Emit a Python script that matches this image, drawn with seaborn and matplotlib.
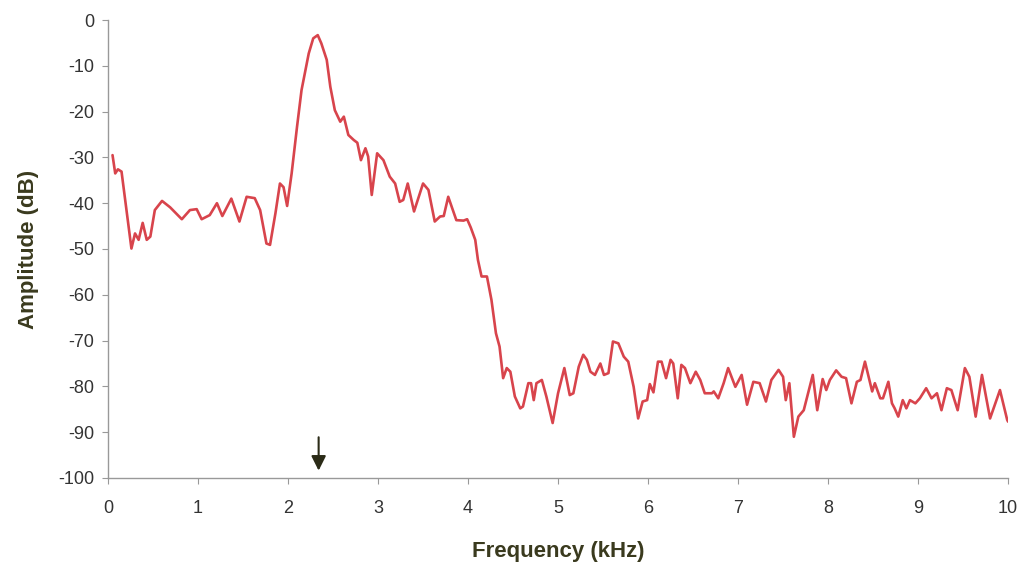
import pandas as pd
import seaborn as sns
import matplotlib.pyplot as plt

frecuencia = [0.05, 0.08, 0.11, 0.15, 0.26, 0.30, 0.34, 0.385, 0.43, 0.47,
              0.52, 0.60, 0.69, 0.82, 0.91, 0.985, 1.04, 1.13, 1.21, 1.27,
              1.37, 1.46, 1.54, 1.63, 1.69, 1.76, 1.80, 1.86, 1.91, 1.95,
              1.99, 2.04, 2.10, 2.15, 2.23, 2.28, 2.33, 2.37, 2.43, 2.47,
              2.52, 2.58, 2.62, 2.67, 2.73, 2.77, 2.81, 2.86, 2.89, 2.93,
              2.99, 3.06, 3.13, 3.19, 3.24, 3.28, 3.33, 3.40, 3.50, 3.56,
              3.63, 3.69, 3.73, 3.78, 3.87, 3.95, 3.99, 4.03, 4.08, 4.11,
              4.15, 4.21, 4.26, 4.31, 4.35, 4.39, 4.43, 4.47, 4.52, 4.58,
              4.61, 4.67, 4.70, 4.73, 4.76, 4.82, 4.87, 4.94, 5.00, 5.07,
              5.13, 5.17, 5.23, 5.28, 5.32, 5.36, 5.41, 5.47, 5.51, 5.56,
              5.61, 5.67, 5.73, 5.78, 5.84, 5.89, 5.94, 5.99, 6.02, 6.06,
              6.11, 6.15, 6.20, 6.25, 6.28, 6.33, 6.37, 6.41, 6.47, 6.53,
              6.58, 6.63, 6.71, 6.73, 6.78, 6.84, 6.89, 6.97, 7.04, 7.10,
              7.17, 7.24, 7.31, 7.37, 7.45, 7.50, 7.53, 7.57, 7.62, 7.67,
              7.73, 7.83, 7.88, 7.94, 7.98, 8.02, 8.09, 8.15, 8.20, 8.26,
              8.32, 8.36, 8.41, 8.49, 8.52, 8.58, 8.61, 8.67, 8.71, 8.74,
              8.78, 8.83, 8.87, 8.91, 8.97, 9.02, 9.09, 9.15, 9.21, 9.26,
              9.32, 9.37, 9.44, 9.52, 9.57, 9.64, 9.71, 9.80, 9.91, 9.99,
              10.0]
amplitud = [-29.5, -33.5, -32.6, -33.1, -49.9, -46.6, -48, -44.3, -48, -47.3,
            -41.5, -39.5, -40.9, -43.5, -41.5, -41.3, -43.5, -42.6, -40, -42.8,
            -39, -44, -38.6, -38.9, -41.5, -48.8, -49.1, -42.2, -35.7, -36.5,
            -40.6, -33.5, -23.3, -15.3, -7.3, -4, -3.3, -5.1, -8.7, -14.6,
            -19.7, -22.2, -21.1, -25.1, -26.2, -26.8, -30.6, -28, -29.8, -38.2,
            -29.1, -30.6, -34.2, -35.7, -39.7, -39.3, -35.7, -41.8, -35.7, -37.1,
            -44, -42.9, -42.8, -38.6, -43.7, -43.8, -43.5, -45.3, -48, -52.4,
            -56, -56, -61.1, -68.4, -71.3, -78.2, -76, -76.8, -82.2, -84.8,
            -84.4, -79.3, -79.3, -83, -79.3, -78.6, -82.2, -88, -81.5, -76,
            -81.9, -81.5, -75.7, -73.1, -74.2, -76.8, -77.5, -75, -77.5, -77.1,
            -70.2, -70.6, -73.5, -74.6, -80.1, -87, -83.3, -83, -79.5, -81.3,
            -74.6, -74.6, -78.2, -74.2, -75, -82.6, -75.3, -76, -79.3, -76.8,
            -78.6, -81.5, -81.5, -81.1, -82.6, -79.3, -76, -80.1, -77.5, -84,
            -79, -79.3, -83.3, -78.6, -76.4, -77.9, -83, -79.3, -91, -86.6,
            -85.2, -77.5, -85.2, -78.4, -80.8, -78.6, -76.5, -77.9, -78.2, -83.7,
            -79, -78.6, -74.6, -81.1, -79.3, -82.6, -82.6, -79, -83.7, -84.8,
            -86.6, -83, -84.8, -83, -83.7, -82.6, -80.4, -82.6, -81.5, -85.2,
            -80.4, -80.8, -85.2, -76, -77.9, -86.6, -77.5, -87, -80.8, -87.3,
            -87.7]

# frecuencia marcada con la flecha
flecha_frec = 2.34

datos = pd.DataFrame({"Frecuencia": frecuencia, "Amplitud": amplitud})

sns.set_style("ticks")
plt.rcParams['font.family'] = ['Liberation Sans', 'DejaVu Sans']
plt.rcParams['axes.unicode_minus'] = False

fig = plt.figure(figsize=(10.23, 5.67), dpi=100)
ax = fig.add_axes([0.1056, 0.157, 0.8798, 0.8077])

sns.lineplot(data=datos, x="Frecuencia", y="Amplitud", color="#d8444c",
             linewidth=1.9, ax=ax, solid_joinstyle="round", solid_capstyle="round")

ax.annotate("", xy=(flecha_frec, -99), xytext=(flecha_frec, -90.5),
            arrowprops=dict(arrowstyle="-|>", color="#2b2b17", lw=1.5,
                            mutation_scale=22))

ax.set_xlim(0, 10)
ax.set_ylim(-100, 0)
ax.set_xticks(range(0, 11))
ax.set_yticks(range(-100, 1, 10))

color_texto = "#3a3a1e"
ax.set_xlabel("Frequency (kHz)", fontsize=16, fontweight="bold", color=color_texto, labelpad=17)
ax.set_ylabel("Amplitude (dB)", fontsize=16, fontweight="bold", color=color_texto, labelpad=14)
ax.tick_params(axis="both", labelsize=13, colors="#333333", length=4, width=0.8,
               color="#999999", pad=6)
ax.tick_params(axis="x", pad=12)

for lado in ["top", "right"]:
    ax.spines[lado].set_visible(False)
for lado in ["left", "bottom"]:
    ax.spines[lado].set_color("#999999")
    ax.spines[lado].set_linewidth(1.0)

fig.savefig("out.png", dpi=100)
